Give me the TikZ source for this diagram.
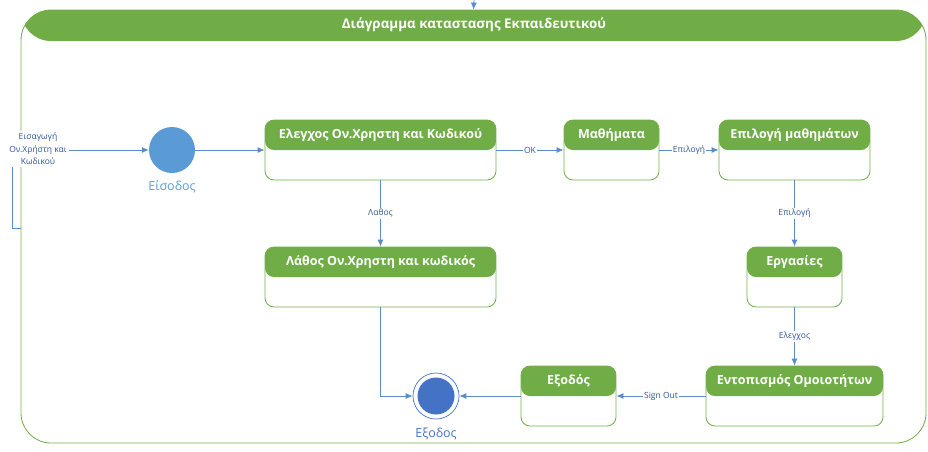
\documentclass[tikz,border=0pt]{standalone}
\usepackage{fontspec}
\setmainfont{Open Sans}
\usepackage{tikz}
\usetikzlibrary{calc, arrows.meta, positioning}
\definecolor{stategreen}{RGB}{112,173,71}
\definecolor{linkblue}{RGB}{91,139,201}
\definecolor{textblue}{RGB}{47,85,151}
\definecolor{initblue}{RGB}{91,155,213}
\definecolor{finalblue}{RGB}{68,114,196}
\tikzset{
  statebox/.style={draw=stategreen, line width=0.8pt, rounded corners=9pt, inner sep=0pt,
    minimum height=60pt,
    path picture={\fill[stategreen] (path picture bounding box.north west) rectangle (path picture bounding box.east);}},
  statetitle/.style={font=\bfseries\fontsize{12.5}{15}\selectfont, text=white, inner sep=0pt},
  link/.style={draw=linkblue, line width=0.8pt, -{Latex[length=7pt,width=6pt]}},
  linklabel/.style={font=\fontsize{8.5}{10}\selectfont, text=textblue, fill=white, inner sep=1pt},
}
\begin{document}
\begin{tikzpicture}[x=1pt, y=-1pt]
        \useasboundingbox (0,0) rectangle (928,451);

        % outer frame
        \node[draw=stategreen, line width=0.8pt, rounded corners=30pt, inner sep=0pt,
              minimum width=905pt, minimum height=433pt,
              path picture={\fill[stategreen] (path picture bounding box.north west) rectangle ($(path picture bounding box.north east)+(0,-31pt)$);}]
              (frame) at (473.5,226.5) {};
        \node[statetitle, font=\bfseries\fontsize{13.4}{16}\selectfont] at (474,25) {Διάγραμμα καταστασης Εκπαιδευτικού};
        \coordinate (top) at (474,0);
        \draw[link] (top) -- (frame.north);

        % pseudo states
        \node[circle, fill=initblue, minimum size=46pt, inner sep=0pt] (init) at (172,150) {};
        \node[text=initblue, font=\fontsize{12.5}{15}\selectfont] at (172,187) {Είσοδος};
        \node[circle, draw=finalblue, line width=0.7pt, fill=white, minimum size=46pt, inner sep=0pt,
              path picture={\fill[finalblue] (path picture bounding box.center) circle (18.5pt);}]
              (final) at (436,396) {};
        \node[text=finalblue, font=\fontsize{12.5}{15}\selectfont] at (436,434) {Εξοδος};

        % states
        \node[statebox, minimum width=231pt] (check) at (380.5,150) {};
        \node[statetitle] at ($(check.north)!0.25!(check.south)$) {Ελεγχος Ον.Χρηστη και Κωδικού};

        \node[statebox, minimum width=95pt] (lessons) at (611.5,150) {};
        \node[statetitle] at ($(lessons.north)!0.25!(lessons.south)$) {Μαθήματα};

        \node[statebox, minimum width=151pt] (choose) at (794.5,150) {};
        \node[statetitle] at ($(choose.north)!0.25!(choose.south)$) {Επιλογή μαθημάτων};

        \node[statebox, minimum width=231pt] (error) at (380.5,277) {};
        \node[statetitle] at ($(error.north)!0.25!(error.south)$) {Λάθος Ον.Χρηστη και κωδικός};

        \node[statebox, minimum width=95pt] (tasks) at (794.5,277) {};
        \node[statetitle] at ($(tasks.north)!0.25!(tasks.south)$) {Εργασίες};

        \node[statebox, minimum width=177pt] (similar) at (794.5,396) {};
        \node[statetitle] at ($(similar.north)!0.25!(similar.south)$) {Εντοπισμός Ομοιοτήτων};

        \node[statebox, minimum width=95pt] (logout) at (568.5,396) {};
        \node[statetitle] at ($(logout.north)!0.25!(logout.south)$) {Εξοδός};

        % transitions
        \coordinate (entry) at (frame.west |- 0,228);
        \coordinate (bend) at (12,228);
        \coordinate (corner) at (12,150);
        \draw[link] (entry) -- (bend) -- (corner) -- (init.west);
        \node[linklabel, align=center, inner sep=2pt, font=\fontsize{8.5}{12.5}\selectfont] at (38,149)
              {Εισαγωγή\\Ον.Χρήστη και\\Κωδικού};

        \draw[link] (init.east) -- (check.west);
        \draw[link] (check.east) -- node[linklabel] {OK} (lessons.west);
        \draw[link] (lessons.east) -- node[linklabel] {Επιλογή} (choose.west);
        \draw[link] (choose.south) -- node[linklabel] {Επιλογή} (tasks.north);
        \draw[link] (tasks.south) -- node[linklabel] {Ελεγχος} (similar.north);
        \draw[link] (similar.west) -- node[linklabel] {Sign Out} (logout.east);
        \draw[link] (logout.west) -- (final.east);
        \draw[link] (check.south) -- node[linklabel] {Λαθος} (error.north);
        \draw[link] (error.south) |- (final.west);
    \end{tikzpicture}
\end{document}
